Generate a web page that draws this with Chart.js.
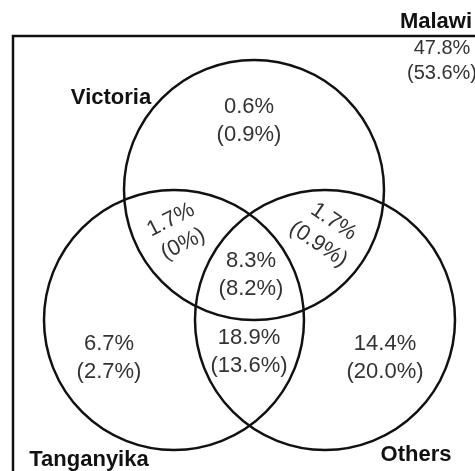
<!DOCTYPE html>
<html lang="en">
<head>
<meta charset="UTF-8">
<title>Lake Venn</title>
<script src="https://cdn.jsdelivr.net/npm/chart.js"></script>
<style>
  html, body { margin: 0; padding: 0; background: #fff; }
</style>
</head>
<body>
<canvas id="venn" width="475" height="471"></canvas>
<script>
// Sets (one circle each) and the region shares
const lakes = ['Victoria', 'Tanganyika', 'Others'];
const outside = 'Malawi';
const regions = ['Malawi', 'Victoria', 'Victoria+Tanganyika', 'Victoria+Others',
                 'All three', 'Tanganyika', 'Tanganyika+Others', 'Others'];
const shareFirst = [47.8, 0.6, 1.7, 1.7, 8.3, 6.7, 18.9, 14.4];
const shareSecond = [53.6, 0.9, 0, 0.9, 8.2, 2.7, 13.6, 20.0];

// Layout, in plot units (0..475 across, 0..471 down)
const lakeX = [254, 174, 325];
const lakeY = [190, 320, 320];
const lakeR = [130, 130, 130];
const lakeLabelPos = [[111, 98], [89, 460], [416, 455]];
const outsideLabelPos = [436, 22];
const regionPos = [[442, 61], [249, 121], [177, 232], [326, 233],
                   [251, 275], [109, 358], [249, 352], [385, 358]];
const regionAngle = [0, 0, -27, 34, 0, 0, 0, 0];
const regionFont = [20, 22, 22, 22, 22, 22, 22, 22];
const frameCorner = [13, 36];

function fmt(v) {
  return (v === 0 ? '0' : v.toFixed(1)) + '%';
}

const vennText = {
  id: 'vennText',
  beforeDatasetsDraw(chart) {
    const { ctx, scales: { x, y } } = chart;
    ctx.save();
    ctx.strokeStyle = '#111';
    ctx.lineWidth = 2.5;
    ctx.beginPath();
    ctx.moveTo(x.getPixelForValue(frameCorner[0]), y.getPixelForValue(480));
    ctx.lineTo(x.getPixelForValue(frameCorner[0]), y.getPixelForValue(frameCorner[1]));
    ctx.lineTo(x.getPixelForValue(485), y.getPixelForValue(frameCorner[1]));
    ctx.stroke();
    ctx.restore();
  },
  afterDatasetsDraw(chart) {
    const { ctx, scales: { x, y } } = chart;
    ctx.save();
    ctx.textAlign = 'center';
    ctx.textBaseline = 'middle';

    // region percentages, two lines each
    ctx.fillStyle = '#333';
    regions.forEach((r, i) => {
      const fs = regionFont[i];
      ctx.font = fs + 'px "Liberation Sans", Arial, sans-serif';
      ctx.save();
      ctx.translate(x.getPixelForValue(regionPos[i][0]), y.getPixelForValue(regionPos[i][1]));
      ctx.rotate(regionAngle[i] * Math.PI / 180);
      ctx.fillText(fmt(shareFirst[i]), 0, -fs * 0.62);
      ctx.fillText('(' + fmt(shareSecond[i]) + ')', 0, fs * 0.62);
      ctx.restore();
    });

    // set names
    ctx.font = 'bold 22px "Liberation Sans", Arial, sans-serif';
    ctx.fillStyle = '#111';
    lakes.forEach((name, i) => {
      ctx.fillText(name, x.getPixelForValue(lakeLabelPos[i][0]), y.getPixelForValue(lakeLabelPos[i][1]));
    });
    ctx.fillText(outside, x.getPixelForValue(outsideLabelPos[0]), y.getPixelForValue(outsideLabelPos[1]));
    ctx.restore();
  }
};

new Chart(document.getElementById('venn'), {
  type: 'scatter',
  data: {
    datasets: [{
      label: 'Lakes',
      data: lakes.map((n, i) => ({ x: lakeX[i], y: lakeY[i] })),
      pointRadius: (c) => {
        const s = c.chart.scales.x;
        return Math.abs(s.getPixelForValue(lakeR[c.dataIndex]) - s.getPixelForValue(0));
      },
      pointBackgroundColor: 'rgba(0,0,0,0)',
      pointBorderColor: '#111',
      pointBorderWidth: 2.5
    }]
  },
  options: {
    responsive: false,
    animation: false,
    events: [],
    layout: { padding: 0 },
    scales: {
      x: { type: 'linear', min: 0, max: 475, display: false },
      y: { type: 'linear', min: 0, max: 471, reverse: true, display: false }
    },
    plugins: {
      legend: { display: false },
      tooltip: { enabled: false }
    }
  },
  plugins: [vennText]
});
</script>
</body>
</html>
